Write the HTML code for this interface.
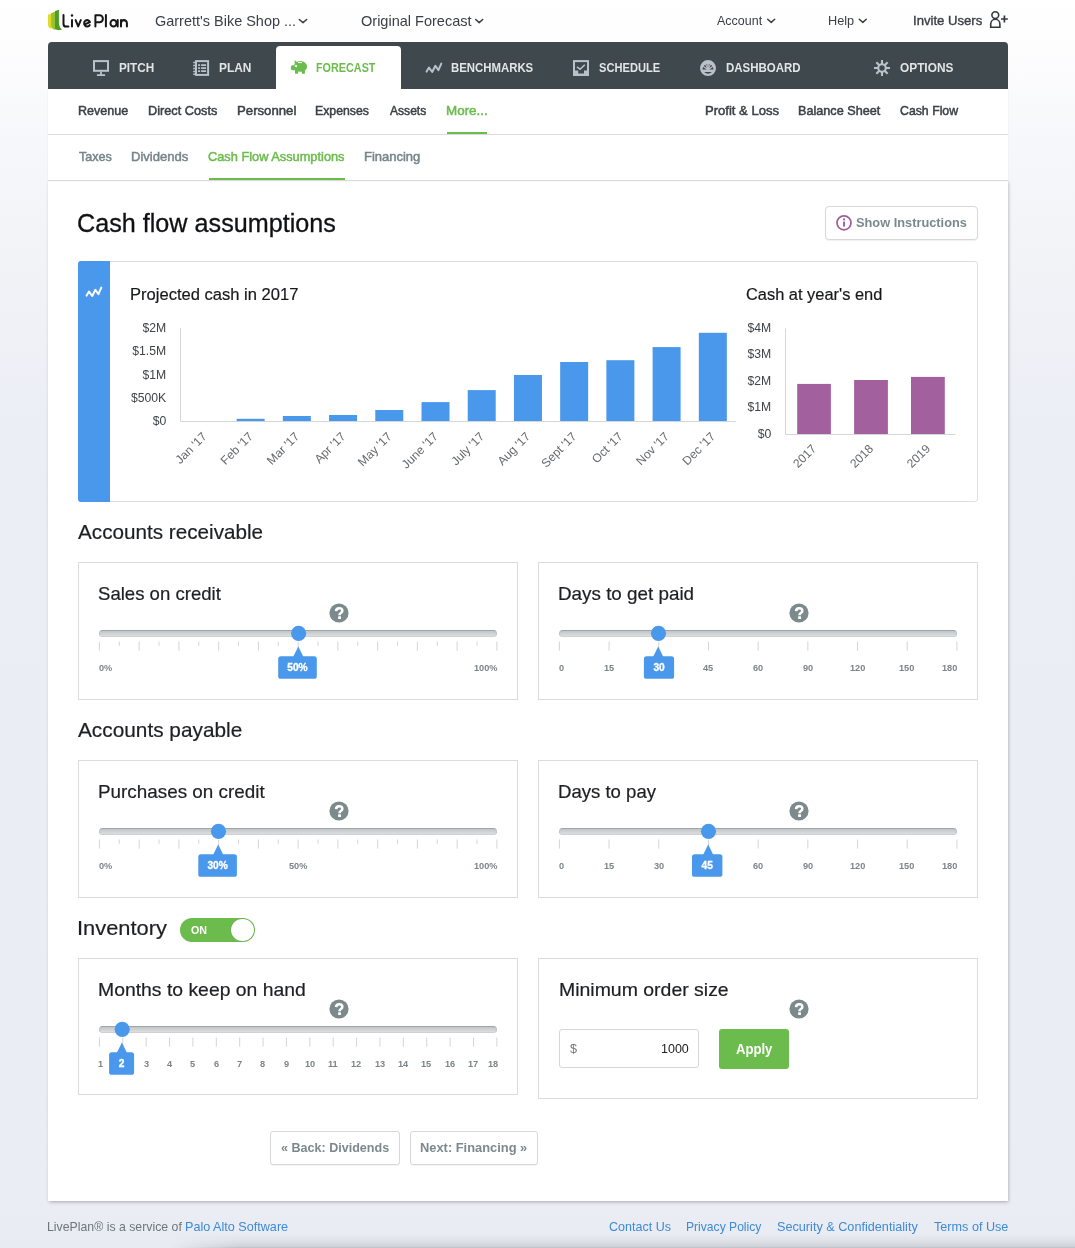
<!DOCTYPE html>
<html><head><meta charset="utf-8"><title>LivePlan - Cash flow assumptions</title>
<style>
html,body{margin:0;padding:0}
body{width:1075px;height:1248px;position:relative;overflow:hidden;font-family:"Liberation Sans",sans-serif;
background:linear-gradient(to bottom,#ffffff 0px,#fdfdfe 50px,#f6f7fa 150px,#f1f3f7 260px,#ebeef5 430px,#eaedf4 1200px,#e8ebf2 1248px);}
.t{position:absolute;white-space:nowrap;line-height:1;}
.b{position:absolute;box-sizing:border-box;}
svg{position:absolute;overflow:visible}
#root{position:absolute;left:0;top:0;width:1075px;height:1248px;will-change:transform}
</style></head><body><div id="root">
<div class="b" style="left:48px;top:181px;width:960px;height:1020px;background:#fff;box-shadow:0.5px 1px 3.5px rgba(0,0,0,.3);"></div>
<div class="b" style="left:48px;top:89px;width:960px;height:92px;background:#fff;box-shadow:0 0 1px rgba(0,0,0,.12);"></div>
<svg style="left:44px;top:4px" width="90" height="34" viewBox="44 4 90 34">
<path d="M47.9 14.7 L51.4 13.7 V29 Q48.6 28.2 47.9 25.4 Z" fill="#e0da2c"/>
<path d="M51.1 12.9 L55.3 11.8 V29.9 Q52.4 29.6 51.1 26.8 Z" fill="#98c232"/>
<path d="M55 10.9 L58.9 9.8 V23 Q59.2 27.6 62.2 29.5 Q57.5 30.8 55 29 Z" fill="#4b9e22"/>
<g transform="translate(0,14) scale(1,1.062) translate(0,-14)">
<g fill="none" stroke="#161616" stroke-width="2" stroke-linecap="round" stroke-linejoin="round">
<path d="M63.5 15 V23.4 Q63.5 25.8 65.9 25.8 H68.4"/>
<path d="M72 19.8 V25.8"/>
<path d="M75.6 19.8 L78.2 25.6 L80.8 19.8"/>
<path d="M84.4 24 L90 21.6 A3.05 3.05 0 1 0 89.7 24.5"/>
<path d="M95.4 25.8 V15.2 H99.6 A3.3 3.3 0 0 1 99.6 21.8 H95.6"/>
<path d="M105.9 15 V25.8"/>
<circle cx="113.5" cy="22.75" r="3.05"/>
<path d="M117.7 19.8 V25.8"/>
<path d="M121 19.8 V25.8 M121 22.8 A2.95 3 0 0 1 126.9 22.8 V25.8"/>
</g>
<circle cx="72" cy="15.4" r="1.2" fill="#161616"/>
</g>
</svg>
<span class="t" style="left:154.67px;top:13.30px;font-size:15px;color:#3a3e45;transform:scaleX(0.9644);transform-origin:0 0;">Garrett's Bike Shop ...</span>
<svg style="left:0;top:0" width="1075" height="60"><path d="M299.3 19.5 L303.0 22.6 L306.7 19.5" fill="none" stroke="#3a3f44" stroke-width="1.5" stroke-linecap="round" stroke-linejoin="round"/></svg>
<span class="t" style="left:360.71px;top:13.30px;font-size:15px;color:#3a3e45;transform:scaleX(0.9683);transform-origin:0 0;">Original Forecast</span>
<svg style="left:0;top:0" width="1075" height="60"><path d="M475.7 19.5 L479.2 22.6 L482.7 19.5" fill="none" stroke="#3a3f44" stroke-width="1.5" stroke-linecap="round" stroke-linejoin="round"/></svg>
<span class="t" style="left:716.98px;top:14.20px;font-size:13px;color:#3a3e45;transform:scaleX(0.9604);transform-origin:0 0;">Account</span>
<svg style="left:0;top:0" width="1075" height="60"><path d="M767.7 19.3 L771.2 22.400000000000002 L774.6999999999999 19.3" fill="none" stroke="#3a3f44" stroke-width="1.5" stroke-linecap="round" stroke-linejoin="round"/></svg>
<span class="t" style="left:828.36px;top:14.20px;font-size:13px;color:#3a3e45;transform:scaleX(0.9791);transform-origin:0 0;">Help</span>
<svg style="left:0;top:0" width="1075" height="60"><path d="M859.3000000000001 19.3 L862.8 22.400000000000002 L866.3 19.3" fill="none" stroke="#3a3f44" stroke-width="1.5" stroke-linecap="round" stroke-linejoin="round"/></svg>
<span class="t" style="left:912.79px;top:14.20px;font-size:13px;color:#3a3e45;transform:scaleX(1.0095);transform-origin:0 0;-webkit-text-stroke:0.38px #3a3e45;">Invite Users</span>
<svg style="left:988px;top:8px" width="22" height="22" viewBox="988 8 22 22">
<g fill="none" stroke="#33383d" stroke-width="1.6" stroke-linejoin="miter" stroke-linecap="butt">
<circle cx="995.3" cy="15.1" r="3.4"/>
<path d="M990.7 27.2 V24.2 A4.6 4.9 0 0 1 999.9 24.2 V27.2 Z"/>
<path d="M1001 19 H1007.8 M1004.4 15.6 V22.6" stroke-width="1.7"/>
</g></svg>
<div class="b" style="left:48px;top:42px;width:960px;height:47px;background:#3f484d;border-radius:4px 4px 0 0;"></div>
<div class="b" style="left:276px;top:46px;width:125px;height:43px;background:#fff;border-radius:4px 4px 0 0;"></div>
<span class="t" style="left:118.62px;top:61.20px;font-size:13px;color:#e1e5e7;font-weight:bold;transform:scaleX(0.9019);transform-origin:0 0;">PITCH</span>
<span class="t" style="left:218.80px;top:61.20px;font-size:13px;color:#e1e5e7;font-weight:bold;transform:scaleX(0.9155);transform-origin:0 0;">PLAN</span>
<span class="t" style="left:316.28px;top:61.20px;font-size:13px;color:#6cbc4d;font-weight:bold;transform:scaleX(0.8313);transform-origin:0 0;">FORECAST</span>
<span class="t" style="left:451.24px;top:61.20px;font-size:13px;color:#e1e5e7;font-weight:bold;transform:scaleX(0.8755);transform-origin:0 0;">BENCHMARKS</span>
<span class="t" style="left:599.28px;top:61.20px;font-size:13px;color:#e1e5e7;font-weight:bold;transform:scaleX(0.8552);transform-origin:0 0;">SCHEDULE</span>
<span class="t" style="left:725.83px;top:61.20px;font-size:13px;color:#e1e5e7;font-weight:bold;transform:scaleX(0.8834);transform-origin:0 0;">DASHBOARD</span>
<span class="t" style="left:900.11px;top:61.20px;font-size:13px;color:#e1e5e7;font-weight:bold;transform:scaleX(0.9118);transform-origin:0 0;">OPTIONS</span>
<svg style="left:0;top:0" width="1075" height="100">
<g fill="none" stroke="#bac2c9" stroke-width="2" stroke-linejoin="miter" stroke-linecap="butt">
<!-- monitor -->
<rect x="94" y="61.1" width="14" height="9.7"/>
<path d="M101 71.6 V74.4 M96.9 75.2 H105.1" stroke-width="1.8"/>
<!-- notebook -->
<rect x="196" y="61.1" width="12.1" height="13.8"/>
<path d="M193.2 62.4 H196 M193.2 65.4 H196 M193.2 68.4 H196 M193.2 71.4 H196 M193.2 74.2 H196" stroke-width="1.5"/>
<path d="M198.1 65.1 H200.1 M201.1 65.1 H206.1 M198.1 68.1 H200.1 M201.1 68.1 H206.1 M198.1 71.1 H200.1 M201.1 71.1 H206.1" stroke-width="1.8"/>
<!-- zigzag -->
<path d="M426.6 71.6 L429 67.6 L432.2 72 L435.4 65.8 L438.4 70.2 L441.3 63.6" stroke-width="2" stroke-linejoin="round" stroke-linecap="round"/>
<!-- schedule -->
<rect x="574" y="61.1" width="14" height="13.9"/>
<path d="M577 66.9 L580.1 69.3 L584.8 64.7" stroke-width="1.6"/>
<!-- gear -->
<circle cx="882" cy="68" r="3.75" stroke-width="2.1"/>
<path d="M882 60 V64.2 M882 71.8 V76 M874 68 H878.2 M885.8 68 H890 M876.35 62.35 L879.3 65.3 M884.7 70.7 L887.65 73.65 M876.35 73.65 L879.3 70.7 M884.7 65.3 L887.65 62.35" stroke-width="2.1"/>
</g>
<path d="M575 70.6 H578.2 V73.5 H584 V70.6 H587 V75 H575 Z" fill="#bac2c9"/>
<!-- dashboard -->
<circle cx="708" cy="68.05" r="8" fill="#bac2c9"/>
<path d="M702.5 69.6 A5.5 5.7 0 0 1 713.5 69.6 Z" fill="#3f484d"/>
<path d="M704 72 Q708 75.4 712 72 Z" fill="#3f484d"/>
<g stroke="#bac2c9" fill="none">
<path d="M708 62 V71.4" stroke-width="1.6"/>
<path d="M708 69.8 L703 66.2 M708 69.8 L713 66.2 M708 69.8 L705.2 63.4 M708 69.8 L710.8 63.4" stroke-width="1.1"/>
</g>
<!-- piggy -->
<g fill="#6cbc4d">
<ellipse cx="300.5" cy="66.4" rx="6.6" ry="5.3"/>
<rect x="295" y="69" width="3.1" height="4.7" rx="0.4"/>
<rect x="301.8" y="69" width="3.1" height="4.7" rx="0.4"/>
<rect x="290.9" y="65.2" width="5" height="5" rx="1.6"/>
<path d="M294.7 59.9 L297.6 62.4 L294.7 64.6 Z"/>
</g>
<rect x="298.1" y="62" width="3.9" height="1.1" fill="#fff"/>
<rect x="294.9" y="65" width="2.1" height="2.1" fill="#eaf5e4"/>
</svg>
<div class="b" style="left:48px;top:134px;width:960px;height:1px;background:#d8dadb;"></div>
<div class="b" style="left:48px;top:180px;width:960px;height:1px;background:#d8dadb;"></div>
<span class="t" style="left:77.77px;top:104.20px;font-size:13px;color:#3b4044;transform:scaleX(0.9644);transform-origin:0 0;-webkit-text-stroke:0.5px #3b4044;">Revenue</span>
<span class="t" style="left:147.96px;top:104.20px;font-size:13px;color:#3b4044;transform:scaleX(0.9790);transform-origin:0 0;-webkit-text-stroke:0.5px #3b4044;">Direct Costs</span>
<span class="t" style="left:236.92px;top:104.20px;font-size:13px;color:#3b4044;transform:scaleX(1.0141);transform-origin:0 0;-webkit-text-stroke:0.5px #3b4044;">Personnel</span>
<span class="t" style="left:315.39px;top:104.20px;font-size:13px;color:#3b4044;transform:scaleX(0.9432);transform-origin:0 0;-webkit-text-stroke:0.5px #3b4044;">Expenses</span>
<span class="t" style="left:390.38px;top:104.20px;font-size:13px;color:#3b4044;transform:scaleX(0.9294);transform-origin:0 0;-webkit-text-stroke:0.5px #3b4044;">Assets</span>
<span class="t" style="left:446.30px;top:104.20px;font-size:13px;color:#6cbc4d;transform:scaleX(1.0314);transform-origin:0 0;-webkit-text-stroke:0.5px #6cbc4d;">More...</span>
<div class="b" style="left:447px;top:132px;width:40px;height:2px;background:#6cbc4d;"></div>
<span class="t" style="left:704.73px;top:104.20px;font-size:13px;color:#3b4044;transform:scaleX(1.0047);transform-origin:0 0;-webkit-text-stroke:0.5px #3b4044;">Profit &amp; Loss</span>
<span class="t" style="left:797.86px;top:104.20px;font-size:13px;color:#3b4044;transform:scaleX(0.9724);transform-origin:0 0;-webkit-text-stroke:0.5px #3b4044;">Balance Sheet</span>
<span class="t" style="left:899.98px;top:104.20px;font-size:13px;color:#3b4044;transform:scaleX(0.9460);transform-origin:0 0;-webkit-text-stroke:0.5px #3b4044;">Cash Flow</span>
<span class="t" style="left:78.52px;top:150.20px;font-size:13px;color:#76858c;transform:scaleX(0.9639);transform-origin:0 0;-webkit-text-stroke:0.5px #76858c;">Taxes</span>
<span class="t" style="left:130.93px;top:150.20px;font-size:13px;color:#76858c;transform:scaleX(1.0045);transform-origin:0 0;-webkit-text-stroke:0.5px #76858c;">Dividends</span>
<span class="t" style="left:208.35px;top:150.20px;font-size:13px;color:#6cbc4d;transform:scaleX(0.9840);transform-origin:0 0;-webkit-text-stroke:0.5px #6cbc4d;">Cash Flow Assumptions</span>
<span class="t" style="left:364.33px;top:150.20px;font-size:13px;color:#76858c;transform:scaleX(0.9988);transform-origin:0 0;-webkit-text-stroke:0.5px #76858c;">Financing</span>
<div class="b" style="left:208.6px;top:178px;width:136.3px;height:2px;background:#6cbc4d;"></div>
<span class="t" style="left:77.42px;top:210.70px;font-size:25.4px;color:#101113;transform:scaleX(0.9916);transform-origin:0 0;-webkit-text-stroke:0.3px #101113;">Cash flow assumptions</span>
<div class="b" style="left:825px;top:206px;width:153px;height:34px;background:#fff;border:1px solid #d6d8d9;border-radius:4px;box-shadow:0 1px 1px rgba(0,0,0,.06);"></div>
<span class="t" style="left:856.03px;top:216.20px;font-size:13px;color:#7b898e;font-weight:bold;transform:scaleX(0.9842);transform-origin:0 0;">Show Instructions</span>
<svg style="left:834px;top:213px" width="20" height="20" viewBox="834 213 20 20">
<circle cx="844" cy="222.8" r="7" fill="none" stroke="#9d5e99" stroke-width="1.7"/>
<rect x="843.1" y="221.6" width="1.9" height="5" fill="#9d5e99"/><circle cx="844.05" cy="219.4" r="1.1" fill="#9d5e99"/></svg>
<div class="b" style="left:78px;top:261px;width:900px;height:241px;background:#fff;border:1px solid #dcdedf;border-radius:3px;"></div>
<div class="b" style="left:78px;top:261px;width:32px;height:241px;background:#4a98ec;border-radius:3px 0 0 3px;"></div>
<svg style="left:0;top:0" width="1075" height="520"><path d="M86.6 295.6 L89 291.6 L92.2 296 L95.4 289.8 L98.4 294.2 L101.3 287.6" fill="none" stroke="#fff" stroke-width="2" stroke-linecap="round" stroke-linejoin="round"/></svg>
<span class="t" style="left:130.34px;top:285.87px;font-size:17.4px;color:#17181a;transform:scaleX(0.9518);transform-origin:0 0;-webkit-text-stroke:0.2px #17181a;">Projected cash in 2017</span>
<span class="t" style="left:745.87px;top:285.87px;font-size:17.4px;color:#17181a;transform:scaleX(0.9436);transform-origin:0 0;-webkit-text-stroke:0.2px #17181a;">Cash at year's end</span>
<svg style="left:0;top:0" width="1075" height="520" font-family="Liberation Sans, sans-serif">
<path d="M180.5 328 V421.5 H736" fill="none" stroke="#d4d6d8" stroke-width="1"/>
<text x="207.60" y="437.2" text-anchor="end" font-size="12.1" fill="#66696c" transform="rotate(-45 207.60 437.2)">Jan '17</text>
<rect x="236.62" y="418.8" width="28" height="2.20" fill="#4a98ec"/>
<text x="253.82" y="437.2" text-anchor="end" font-size="12.1" fill="#66696c" transform="rotate(-45 253.82 437.2)">Feb '17</text>
<rect x="282.84" y="416" width="28" height="5.00" fill="#4a98ec"/>
<text x="300.04" y="437.2" text-anchor="end" font-size="12.1" fill="#66696c" transform="rotate(-45 300.04 437.2)">Mar '17</text>
<rect x="329.06" y="415" width="28" height="6.00" fill="#4a98ec"/>
<text x="346.26" y="437.2" text-anchor="end" font-size="12.1" fill="#66696c" transform="rotate(-45 346.26 437.2)">Apr '17</text>
<rect x="375.28" y="410" width="28" height="11.00" fill="#4a98ec"/>
<text x="392.48" y="437.2" text-anchor="end" font-size="12.1" fill="#66696c" transform="rotate(-45 392.48 437.2)">May '17</text>
<rect x="421.50" y="402.1" width="28" height="18.90" fill="#4a98ec"/>
<text x="438.70" y="437.2" text-anchor="end" font-size="12.1" fill="#66696c" transform="rotate(-45 438.70 437.2)">June '17</text>
<rect x="467.72" y="390.1" width="28" height="30.90" fill="#4a98ec"/>
<text x="484.92" y="437.2" text-anchor="end" font-size="12.1" fill="#66696c" transform="rotate(-45 484.92 437.2)">July '17</text>
<rect x="513.94" y="375" width="28" height="46.00" fill="#4a98ec"/>
<text x="531.14" y="437.2" text-anchor="end" font-size="12.1" fill="#66696c" transform="rotate(-45 531.14 437.2)">Aug '17</text>
<rect x="560.16" y="362" width="28" height="59.00" fill="#4a98ec"/>
<text x="577.36" y="437.2" text-anchor="end" font-size="12.1" fill="#66696c" transform="rotate(-45 577.36 437.2)">Sept '17</text>
<rect x="606.38" y="360.2" width="28" height="60.80" fill="#4a98ec"/>
<text x="623.58" y="437.2" text-anchor="end" font-size="12.1" fill="#66696c" transform="rotate(-45 623.58 437.2)">Oct '17</text>
<rect x="652.60" y="347.1" width="28" height="73.90" fill="#4a98ec"/>
<text x="669.80" y="437.2" text-anchor="end" font-size="12.1" fill="#66696c" transform="rotate(-45 669.80 437.2)">Nov '17</text>
<rect x="698.82" y="332.8" width="28" height="88.20" fill="#4a98ec"/>
<text x="716.02" y="437.2" text-anchor="end" font-size="12.1" fill="#66696c" transform="rotate(-45 716.02 437.2)">Dec '17</text>
<text x="166.2" y="331.95000000000005" text-anchor="end" font-size="12.2" fill="#404448">$2M</text>
<text x="166.2" y="355.35" text-anchor="end" font-size="12.2" fill="#404448">$1.5M</text>
<text x="166.2" y="378.55" text-anchor="end" font-size="12.2" fill="#404448">$1M</text>
<text x="166.2" y="401.75" text-anchor="end" font-size="12.2" fill="#404448">$500K</text>
<text x="166.2" y="425.15000000000003" text-anchor="end" font-size="12.2" fill="#404448">$0</text>
<path d="M785.5 328.5 V434.5 H955.5" fill="none" stroke="#d4d6d8" stroke-width="1"/>
<rect x="797.2" y="383.9" width="33.70" height="50.10" fill="#a3609f"/>
<text x="817.05" y="449.4" text-anchor="end" font-size="12.1" fill="#66696c" transform="rotate(-45 817.05 449.4)">2017</text>
<rect x="854.1" y="380" width="33.80" height="54.00" fill="#a3609f"/>
<text x="874.00" y="449.4" text-anchor="end" font-size="12.1" fill="#66696c" transform="rotate(-45 874.00 449.4)">2018</text>
<rect x="911" y="376.9" width="33.80" height="57.10" fill="#a3609f"/>
<text x="930.90" y="449.4" text-anchor="end" font-size="12.1" fill="#66696c" transform="rotate(-45 930.90 449.4)">2019</text>
<text x="771.2" y="332.15000000000003" text-anchor="end" font-size="12.2" fill="#404448">$4M</text>
<text x="771.2" y="358.25" text-anchor="end" font-size="12.2" fill="#404448">$3M</text>
<text x="771.2" y="384.95000000000005" text-anchor="end" font-size="12.2" fill="#404448">$2M</text>
<text x="771.2" y="411.25" text-anchor="end" font-size="12.2" fill="#404448">$1M</text>
<text x="771.2" y="437.85" text-anchor="end" font-size="12.2" fill="#404448">$0</text>
</svg>
<span class="t" style="left:78.06px;top:521.76px;font-size:20.6px;color:#1d1f22;transform:scaleX(1.0043);transform-origin:0 0;-webkit-text-stroke:0.2px #1d1f22;">Accounts receivable</span>
<div class="b" style="left:78px;top:562px;width:440px;height:137.5px;background:#fff;border:1px solid #dadcdd;"></div>
<div class="b" style="left:538px;top:562px;width:440px;height:137.5px;background:#fff;border:1px solid #dadcdd;"></div>
<span class="t" style="left:98.26px;top:585.02px;font-size:18.4px;color:#1d1f22;transform:scaleX(1.0096);transform-origin:0 0;-webkit-text-stroke:0.2px #1d1f22;">Sales on credit</span>
<svg style="left:328px;top:602.2px" width="22" height="22" viewBox="-11 -11 22 22"><circle r="9.6" fill="#7d8a8c"/><path d="M-2.9 -1.9 Q-2.8 -4.8 0.2 -4.8 Q3.3 -4.8 3.3 -2.3 Q3.3 -0.9 1.8 0 Q0.5 0.8 0.5 2.2" fill="none" stroke="#fff" stroke-width="2.6"/><rect x="-0.9" y="3.2" width="2.9" height="2.8" rx="0.5" fill="#fff"/></svg>
<div class="b" style="left:98.8px;top:629.7px;width:398.4px;height:7.2px;border-radius:4px;border:1px solid #bcc1c3;border-top-color:#a0a6a8;border-bottom-color:#cdd1d3;background:linear-gradient(#c0c5c6,#dcdfe0);"></div>
<svg style="left:0;top:0px" width="1075" height="700">
<path d="M99.40 641.5 V650.6 M119.28 641.5 V645.8 M139.15 641.5 V650.6 M159.03 641.5 V645.8 M178.90 641.5 V650.6 M198.78 641.5 V645.8 M218.65 641.5 V650.6 M238.53 641.5 V645.8 M258.40 641.5 V650.6 M278.27 641.5 V645.8 M298.15 641.5 V650.6 M318.02 641.5 V645.8 M337.90 641.5 V650.6 M357.77 641.5 V645.8 M377.65 641.5 V650.6 M397.52 641.5 V645.8 M417.40 641.5 V650.6 M437.27 641.5 V645.8 M457.15 641.5 V650.6 M477.02 641.5 V645.8 M496.90 641.5 V650.6 " stroke="#d3d5d7" stroke-width="1" fill="none"/>
<circle cx="298.6" cy="633.3" r="7.6" fill="#4a98ec"/>
<path d="M293.1 657 L298.3 646.6 L303.5 657 Z" fill="#4a98ec"/>
<rect x="278.20" y="656.3" width="38.6" height="22.5" rx="2.6" fill="#4a98ec"/>
</svg>
<span class="t" style="left:99.04px;top:663.09px;font-size:9.7px;color:#7d8487;font-weight:bold;transform:scaleX(0.9500);transform-origin:0 0;">0%</span>
<span class="t" style="left:474.07px;top:663.09px;font-size:9.7px;color:#7d8487;font-weight:bold;transform:scaleX(0.9500);transform-origin:0 0;">100%</span>
<span class="t" style="left:287.27px;top:662.77px;font-size:10.2px;color:#fff;font-weight:bold;transform:scaleX(1.0000);transform-origin:0 0;-webkit-text-stroke:0.3px #fff;">50%</span>
<span class="t" style="left:558.35px;top:585.02px;font-size:18.4px;color:#1d1f22;transform:scaleX(1.0240);transform-origin:0 0;-webkit-text-stroke:0.2px #1d1f22;">Days to get paid</span>
<svg style="left:788px;top:602.2px" width="22" height="22" viewBox="-11 -11 22 22"><circle r="9.6" fill="#7d8a8c"/><path d="M-2.9 -1.9 Q-2.8 -4.8 0.2 -4.8 Q3.3 -4.8 3.3 -2.3 Q3.3 -0.9 1.8 0 Q0.5 0.8 0.5 2.2" fill="none" stroke="#fff" stroke-width="2.6"/><rect x="-0.9" y="3.2" width="2.9" height="2.8" rx="0.5" fill="#fff"/></svg>
<div class="b" style="left:558.8px;top:629.7px;width:398.4px;height:7.2px;border-radius:4px;border:1px solid #bcc1c3;border-top-color:#a0a6a8;border-bottom-color:#cdd1d3;background:linear-gradient(#c0c5c6,#dcdfe0);"></div>
<svg style="left:0;top:0px" width="1075" height="700">
<path d="M559.40 641.5 V650.6 M609.09 641.5 V650.6 M658.78 641.5 V650.6 M708.47 641.5 V650.6 M758.16 641.5 V650.6 M807.85 641.5 V650.6 M857.54 641.5 V650.6 M907.23 641.5 V650.6 M956.92 641.5 V650.6 " stroke="#d3d5d7" stroke-width="1" fill="none"/>
<circle cx="658.5" cy="633.3" r="7.6" fill="#4a98ec"/>
<path d="M653.0 657 L658.2 646.6 L663.4000000000001 657 Z" fill="#4a98ec"/>
<rect x="643.90" y="656.3" width="30.2" height="22.5" rx="2.6" fill="#4a98ec"/>
</svg>
<span class="t" style="left:559.24px;top:663.09px;font-size:9.7px;color:#7d8487;font-weight:bold;transform:scaleX(0.9500);transform-origin:0 0;">0</span>
<span class="t" style="left:603.80px;top:663.09px;font-size:9.7px;color:#7d8487;font-weight:bold;transform:scaleX(0.9500);transform-origin:0 0;">15</span>
<span class="t" style="left:703.40px;top:663.09px;font-size:9.7px;color:#7d8487;font-weight:bold;transform:scaleX(0.9500);transform-origin:0 0;">45</span>
<span class="t" style="left:753.06px;top:663.09px;font-size:9.7px;color:#7d8487;font-weight:bold;transform:scaleX(0.9500);transform-origin:0 0;">60</span>
<span class="t" style="left:802.75px;top:663.09px;font-size:9.7px;color:#7d8487;font-weight:bold;transform:scaleX(0.9500);transform-origin:0 0;">90</span>
<span class="t" style="left:849.75px;top:663.09px;font-size:9.7px;color:#7d8487;font-weight:bold;transform:scaleX(0.9500);transform-origin:0 0;">120</span>
<span class="t" style="left:899.44px;top:663.09px;font-size:9.7px;color:#7d8487;font-weight:bold;transform:scaleX(0.9500);transform-origin:0 0;">150</span>
<span class="t" style="left:942.40px;top:663.09px;font-size:9.7px;color:#7d8487;font-weight:bold;transform:scaleX(0.9500);transform-origin:0 0;">180</span>
<span class="t" style="left:653.42px;top:662.77px;font-size:10.2px;color:#fff;font-weight:bold;transform:scaleX(1.0000);transform-origin:0 0;-webkit-text-stroke:0.3px #fff;">30</span>
<span class="t" style="left:78.06px;top:719.76px;font-size:20.6px;color:#1d1f22;transform:scaleX(1.0101);transform-origin:0 0;-webkit-text-stroke:0.2px #1d1f22;">Accounts payable</span>
<div class="b" style="left:78px;top:760px;width:440px;height:137.5px;background:#fff;border:1px solid #dadcdd;"></div>
<div class="b" style="left:538px;top:760px;width:440px;height:137.5px;background:#fff;border:1px solid #dadcdd;"></div>
<span class="t" style="left:97.55px;top:783.02px;font-size:18.4px;color:#1d1f22;transform:scaleX(1.0256);transform-origin:0 0;-webkit-text-stroke:0.2px #1d1f22;">Purchases on credit</span>
<svg style="left:328px;top:800.2px" width="22" height="22" viewBox="-11 -11 22 22"><circle r="9.6" fill="#7d8a8c"/><path d="M-2.9 -1.9 Q-2.8 -4.8 0.2 -4.8 Q3.3 -4.8 3.3 -2.3 Q3.3 -0.9 1.8 0 Q0.5 0.8 0.5 2.2" fill="none" stroke="#fff" stroke-width="2.6"/><rect x="-0.9" y="3.2" width="2.9" height="2.8" rx="0.5" fill="#fff"/></svg>
<div class="b" style="left:98.8px;top:827.7px;width:398.4px;height:7.2px;border-radius:4px;border:1px solid #bcc1c3;border-top-color:#a0a6a8;border-bottom-color:#cdd1d3;background:linear-gradient(#c0c5c6,#dcdfe0);"></div>
<svg style="left:0;top:198px" width="1075" height="700">
<path d="M99.40 641.5 V650.6 M119.28 641.5 V645.8 M139.15 641.5 V650.6 M159.03 641.5 V645.8 M178.90 641.5 V650.6 M198.78 641.5 V645.8 M218.65 641.5 V650.6 M238.53 641.5 V645.8 M258.40 641.5 V650.6 M278.27 641.5 V645.8 M298.15 641.5 V650.6 M318.02 641.5 V645.8 M337.90 641.5 V650.6 M357.77 641.5 V645.8 M377.65 641.5 V650.6 M397.52 641.5 V645.8 M417.40 641.5 V650.6 M437.27 641.5 V645.8 M457.15 641.5 V650.6 M477.02 641.5 V645.8 M496.90 641.5 V650.6 " stroke="#d3d5d7" stroke-width="1" fill="none"/>
<circle cx="218.5" cy="633.3" r="7.6" fill="#4a98ec"/>
<path d="M213.0 657 L218.2 646.6 L223.39999999999998 657 Z" fill="#4a98ec"/>
<rect x="198.30" y="656.3" width="38.6" height="22.5" rx="2.6" fill="#4a98ec"/>
</svg>
<span class="t" style="left:99.04px;top:861.09px;font-size:9.7px;color:#7d8487;font-weight:bold;transform:scaleX(0.9500);transform-origin:0 0;">0%</span>
<span class="t" style="left:288.76px;top:861.09px;font-size:9.7px;color:#7d8487;font-weight:bold;transform:scaleX(0.9500);transform-origin:0 0;">50%</span>
<span class="t" style="left:474.07px;top:861.09px;font-size:9.7px;color:#7d8487;font-weight:bold;transform:scaleX(0.9500);transform-origin:0 0;">100%</span>
<span class="t" style="left:207.41px;top:860.77px;font-size:10.2px;color:#fff;font-weight:bold;transform:scaleX(1.0000);transform-origin:0 0;-webkit-text-stroke:0.3px #fff;">30%</span>
<span class="t" style="left:558.38px;top:783.02px;font-size:18.4px;color:#1d1f22;transform:scaleX(1.0093);transform-origin:0 0;-webkit-text-stroke:0.2px #1d1f22;">Days to pay</span>
<svg style="left:788px;top:800.2px" width="22" height="22" viewBox="-11 -11 22 22"><circle r="9.6" fill="#7d8a8c"/><path d="M-2.9 -1.9 Q-2.8 -4.8 0.2 -4.8 Q3.3 -4.8 3.3 -2.3 Q3.3 -0.9 1.8 0 Q0.5 0.8 0.5 2.2" fill="none" stroke="#fff" stroke-width="2.6"/><rect x="-0.9" y="3.2" width="2.9" height="2.8" rx="0.5" fill="#fff"/></svg>
<div class="b" style="left:558.8px;top:827.7px;width:398.4px;height:7.2px;border-radius:4px;border:1px solid #bcc1c3;border-top-color:#a0a6a8;border-bottom-color:#cdd1d3;background:linear-gradient(#c0c5c6,#dcdfe0);"></div>
<svg style="left:0;top:198px" width="1075" height="700">
<path d="M559.40 641.5 V650.6 M609.09 641.5 V650.6 M658.78 641.5 V650.6 M708.47 641.5 V650.6 M758.16 641.5 V650.6 M807.85 641.5 V650.6 M857.54 641.5 V650.6 M907.23 641.5 V650.6 M956.92 641.5 V650.6 " stroke="#d3d5d7" stroke-width="1" fill="none"/>
<circle cx="708.5" cy="633.3" r="7.6" fill="#4a98ec"/>
<path d="M703.0 657 L708.2 646.6 L713.4000000000001 657 Z" fill="#4a98ec"/>
<rect x="692.00" y="656.3" width="30.4" height="22.5" rx="2.6" fill="#4a98ec"/>
</svg>
<span class="t" style="left:559.24px;top:861.09px;font-size:9.7px;color:#7d8487;font-weight:bold;transform:scaleX(0.9500);transform-origin:0 0;">0</span>
<span class="t" style="left:603.80px;top:861.09px;font-size:9.7px;color:#7d8487;font-weight:bold;transform:scaleX(0.9500);transform-origin:0 0;">15</span>
<span class="t" style="left:653.74px;top:861.09px;font-size:9.7px;color:#7d8487;font-weight:bold;transform:scaleX(0.9500);transform-origin:0 0;">30</span>
<span class="t" style="left:753.06px;top:861.09px;font-size:9.7px;color:#7d8487;font-weight:bold;transform:scaleX(0.9500);transform-origin:0 0;">60</span>
<span class="t" style="left:802.75px;top:861.09px;font-size:9.7px;color:#7d8487;font-weight:bold;transform:scaleX(0.9500);transform-origin:0 0;">90</span>
<span class="t" style="left:849.75px;top:861.09px;font-size:9.7px;color:#7d8487;font-weight:bold;transform:scaleX(0.9500);transform-origin:0 0;">120</span>
<span class="t" style="left:899.44px;top:861.09px;font-size:9.7px;color:#7d8487;font-weight:bold;transform:scaleX(0.9500);transform-origin:0 0;">150</span>
<span class="t" style="left:942.40px;top:861.09px;font-size:9.7px;color:#7d8487;font-weight:bold;transform:scaleX(0.9500);transform-origin:0 0;">180</span>
<span class="t" style="left:701.59px;top:860.77px;font-size:10.2px;color:#fff;font-weight:bold;transform:scaleX(1.0000);transform-origin:0 0;-webkit-text-stroke:0.3px #fff;">45</span>
<span class="t" style="left:76.98px;top:917.96px;font-size:20.6px;color:#1d1f22;transform:scaleX(1.0617);transform-origin:0 0;-webkit-text-stroke:0.2px #1d1f22;">Inventory</span>
<div class="b" style="left:180px;top:918px;width:75.4px;height:24px;background:#6cbc4d;border-radius:12px;"></div>
<div class="b" style="left:231.4px;top:918.6px;width:22.8px;height:22.8px;background:#fff;border-radius:50%;box-shadow:0 0 1px rgba(0,0,0,.3);"></div>
<span class="t" style="left:190.76px;top:924.86px;font-size:10.8px;color:#fff;font-weight:bold;transform:scaleX(0.9914);transform-origin:0 0;">ON</span>
<div class="b" style="left:78px;top:958px;width:440px;height:137px;background:#fff;border:1px solid #dadcdd;"></div>
<div class="b" style="left:538px;top:958px;width:440px;height:141px;background:#fff;border:1px solid #dadcdd;"></div>
<span class="t" style="left:97.51px;top:981.02px;font-size:18.4px;color:#1d1f22;transform:scaleX(1.0532);transform-origin:0 0;-webkit-text-stroke:0.2px #1d1f22;">Months to keep on hand</span>
<svg style="left:328px;top:998.2px" width="22" height="22" viewBox="-11 -11 22 22"><circle r="9.6" fill="#7d8a8c"/><path d="M-2.9 -1.9 Q-2.8 -4.8 0.2 -4.8 Q3.3 -4.8 3.3 -2.3 Q3.3 -0.9 1.8 0 Q0.5 0.8 0.5 2.2" fill="none" stroke="#fff" stroke-width="2.6"/><rect x="-0.9" y="3.2" width="2.9" height="2.8" rx="0.5" fill="#fff"/></svg>
<div class="b" style="left:98.8px;top:1025.7px;width:398.4px;height:7.2px;border-radius:4px;border:1px solid #bcc1c3;border-top-color:#a0a6a8;border-bottom-color:#cdd1d3;background:linear-gradient(#c0c5c6,#dcdfe0);"></div>
<svg style="left:0;top:396px" width="1075" height="700">
<path d="M99.40 641.5 V650.6 M122.78 641.5 V650.6 M146.16 641.5 V650.6 M169.54 641.5 V650.6 M192.92 641.5 V650.6 M216.30 641.5 V650.6 M239.68 641.5 V650.6 M263.06 641.5 V650.6 M286.44 641.5 V650.6 M309.82 641.5 V650.6 M333.20 641.5 V650.6 M356.58 641.5 V650.6 M379.96 641.5 V650.6 M403.34 641.5 V650.6 M426.72 641.5 V650.6 M450.10 641.5 V650.6 M473.48 641.5 V650.6 M496.86 641.5 V650.6 " stroke="#d3d5d7" stroke-width="1" fill="none"/>
<circle cx="122.2" cy="633.3" r="7.6" fill="#4a98ec"/>
<path d="M116.7 657 L121.9 646.6 L127.10000000000001 657 Z" fill="#4a98ec"/>
<rect x="109.10" y="656.3" width="25" height="22.5" rx="2.6" fill="#4a98ec"/>
</svg>
<span class="t" style="left:98.22px;top:1059.09px;font-size:9.7px;color:#7d8487;font-weight:bold;transform:scaleX(0.9500);transform-origin:0 0;">1</span>
<span class="t" style="left:143.66px;top:1059.09px;font-size:9.7px;color:#7d8487;font-weight:bold;transform:scaleX(0.9500);transform-origin:0 0;">3</span>
<span class="t" style="left:166.93px;top:1059.09px;font-size:9.7px;color:#7d8487;font-weight:bold;transform:scaleX(0.9500);transform-origin:0 0;">4</span>
<span class="t" style="left:190.34px;top:1059.09px;font-size:9.7px;color:#7d8487;font-weight:bold;transform:scaleX(0.9500);transform-origin:0 0;">5</span>
<span class="t" style="left:213.74px;top:1059.09px;font-size:9.7px;color:#7d8487;font-weight:bold;transform:scaleX(0.9500);transform-origin:0 0;">6</span>
<span class="t" style="left:237.12px;top:1059.09px;font-size:9.7px;color:#7d8487;font-weight:bold;transform:scaleX(0.9500);transform-origin:0 0;">7</span>
<span class="t" style="left:260.49px;top:1059.09px;font-size:9.7px;color:#7d8487;font-weight:bold;transform:scaleX(0.9500);transform-origin:0 0;">8</span>
<span class="t" style="left:283.89px;top:1059.09px;font-size:9.7px;color:#7d8487;font-weight:bold;transform:scaleX(0.9500);transform-origin:0 0;">9</span>
<span class="t" style="left:304.59px;top:1059.09px;font-size:9.7px;color:#7d8487;font-weight:bold;transform:scaleX(0.9500);transform-origin:0 0;">10</span>
<span class="t" style="left:328.17px;top:1059.09px;font-size:9.7px;color:#7d8487;font-weight:bold;transform:scaleX(0.9500);transform-origin:0 0;">11</span>
<span class="t" style="left:351.35px;top:1059.09px;font-size:9.7px;color:#7d8487;font-weight:bold;transform:scaleX(0.9500);transform-origin:0 0;">12</span>
<span class="t" style="left:374.71px;top:1059.09px;font-size:9.7px;color:#7d8487;font-weight:bold;transform:scaleX(0.9500);transform-origin:0 0;">13</span>
<span class="t" style="left:397.95px;top:1059.09px;font-size:9.7px;color:#7d8487;font-weight:bold;transform:scaleX(0.9500);transform-origin:0 0;">14</span>
<span class="t" style="left:421.43px;top:1059.09px;font-size:9.7px;color:#7d8487;font-weight:bold;transform:scaleX(0.9500);transform-origin:0 0;">15</span>
<span class="t" style="left:444.85px;top:1059.09px;font-size:9.7px;color:#7d8487;font-weight:bold;transform:scaleX(0.9500);transform-origin:0 0;">16</span>
<span class="t" style="left:468.27px;top:1059.09px;font-size:9.7px;color:#7d8487;font-weight:bold;transform:scaleX(0.9500);transform-origin:0 0;">17</span>
<span class="t" style="left:487.83px;top:1059.09px;font-size:9.7px;color:#7d8487;font-weight:bold;transform:scaleX(0.9500);transform-origin:0 0;">18</span>
<span class="t" style="left:118.79px;top:1058.77px;font-size:10.2px;color:#fff;font-weight:bold;transform:scaleX(1.0000);transform-origin:0 0;-webkit-text-stroke:0.3px #fff;">2</span>
<span class="t" style="left:558.50px;top:981.02px;font-size:18.4px;color:#1d1f22;transform:scaleX(1.0575);transform-origin:0 0;-webkit-text-stroke:0.2px #1d1f22;">Minimum order size</span>
<svg style="left:787.9px;top:998px" width="22" height="22" viewBox="-11 -11 22 22"><circle r="9.6" fill="#7d8a8c"/><path d="M-2.9 -1.9 Q-2.8 -4.8 0.2 -4.8 Q3.3 -4.8 3.3 -2.3 Q3.3 -0.9 1.8 0 Q0.5 0.8 0.5 2.2" fill="none" stroke="#fff" stroke-width="2.6"/><rect x="-0.9" y="3.2" width="2.9" height="2.8" rx="0.5" fill="#fff"/></svg>
<div class="b" style="left:559px;top:1029.2px;width:139.6px;height:38.6px;background:#fff;border:1px solid #d4d7d9;border-radius:3px;"></div>
<span class="t" style="left:570.36px;top:1042.53px;font-size:12.6px;color:#6f777b;transform:scaleX(1.0046);transform-origin:0 0;">$</span>
<span class="t" style="left:660.85px;top:1042.90px;font-size:12.4px;color:#202224;transform:scaleX(1.0093);transform-origin:0 0;">1000</span>
<div class="b" style="left:719px;top:1029px;width:70px;height:40px;background:#6cbc4d;border-radius:3px;"></div>
<span class="t" style="left:735.67px;top:1042.15px;font-size:14px;color:#fff;font-weight:bold;transform:scaleX(0.9359);transform-origin:0 0;">Apply</span>
<div class="b" style="left:270px;top:1131px;width:130px;height:33.6px;background:#fff;border:1px solid #d6d8d9;border-radius:3px;box-shadow:0 1px 1px rgba(0,0,0,.05);"></div>
<div class="b" style="left:410.2px;top:1131px;width:127.6px;height:33.6px;background:#fff;border:1px solid #d6d8d9;border-radius:3px;box-shadow:0 1px 1px rgba(0,0,0,.05);"></div>
<span class="t" style="left:280.74px;top:1141.20px;font-size:13px;color:#7b898e;font-weight:bold;transform:scaleX(0.9660);transform-origin:0 0;">« Back: Dividends</span>
<span class="t" style="left:420.24px;top:1141.20px;font-size:13px;color:#7b898e;font-weight:bold;transform:scaleX(0.9897);transform-origin:0 0;">Next: Financing »</span>
<span class="t" style="left:47.39px;top:1220.03px;font-size:13.2px;color:#6d767b;transform:scaleX(0.9327);transform-origin:0 0;">LivePlan® is a service of</span>
<span class="t" style="left:184.96px;top:1220.03px;font-size:13.2px;color:#3d8ad6;transform:scaleX(0.9567);transform-origin:0 0;">Palo Alto Software</span>
<span class="t" style="left:608.76px;top:1220.03px;font-size:13.2px;color:#3d8ad6;transform:scaleX(0.9494);transform-origin:0 0;">Contact Us</span>
<span class="t" style="left:686.01px;top:1220.03px;font-size:13.2px;color:#3d8ad6;transform:scaleX(0.9180);transform-origin:0 0;">Privacy Policy</span>
<span class="t" style="left:777.12px;top:1220.03px;font-size:13.2px;color:#3d8ad6;transform:scaleX(0.9602);transform-origin:0 0;">Security &amp; Confidentiality</span>
<span class="t" style="left:933.92px;top:1220.03px;font-size:13.2px;color:#3d8ad6;transform:scaleX(0.9575);transform-origin:0 0;">Terms of Use</span>
<div class="b" style="left:170px;top:1234px;width:905px;height:14px;background:linear-gradient(to bottom,rgba(0,0,0,0) 0%,rgba(0,0,0,.035) 45%,rgba(0,0,0,.10) 88%,rgba(0,0,0,.19) 100%);-webkit-mask-image:linear-gradient(to right,transparent 0,#000 70px);mask-image:linear-gradient(to right,transparent 0,#000 70px);"></div>
</div></body></html>
